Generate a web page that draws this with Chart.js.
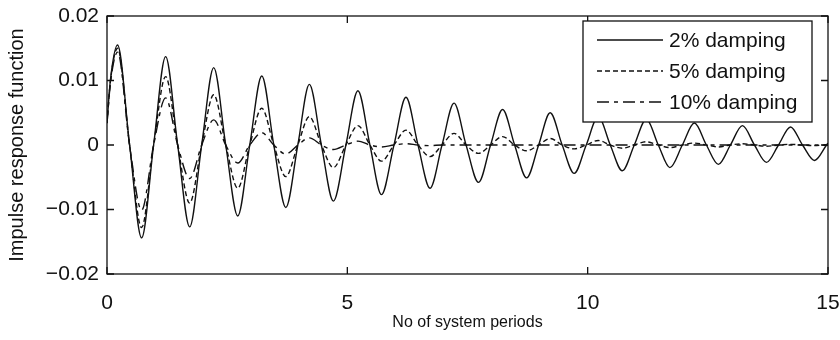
<!DOCTYPE html>
<html>
<head>
<meta charset="utf-8">
<script src="https://cdn.jsdelivr.net/npm/chart.js@4.4.1/dist/chart.umd.min.js"></script>
<style>
  html, body { margin: 0; padding: 0; background: #fff; }
  #wrap { width: 840px; height: 340px; }
</style>
</head>
<body>
<div id="wrap"><canvas id="irf" width="840" height="340"></canvas></div>
<script>
// time in system periods: start, peaks, zero crossings and troughs
const periods = [0, 0.07,
  0.22, 0.47, 0.72, 0.97,   1.22, 1.47, 1.72, 1.97,   2.22, 2.47, 2.72, 2.97,
  3.22, 3.47, 3.72, 3.97,   4.21, 4.46, 4.71, 4.97,   5.22, 5.47, 5.71, 5.97,
  6.22, 6.47, 6.72, 6.97,   7.22, 7.47, 7.73, 7.98,   8.23, 8.48, 8.73, 8.98,
  9.22, 9.47, 9.72, 9.97,   10.22, 10.47, 10.72, 10.97, 11.22, 11.47, 11.71, 11.97,
  12.22, 12.47, 12.72, 12.97, 13.22, 13.47, 13.72, 13.97, 14.22, 14.47, 14.72, 14.97,
  15];

const damping2 = [0.0034, 0.0100,
  0.0155, 0, -0.0144, 0,   0.0137, 0, -0.0127, 0,   0.0120, 0, -0.0110, 0,
  0.0107, 0, -0.0097, 0,   0.0094, 0, -0.0087, 0,   0.0084, 0, -0.0077, 0,
  0.0074, 0, -0.0067, 0,   0.0065, 0, -0.0058, 0,   0.0055, 0, -0.0051, 0,
  0.0050, 0, -0.0044, 0,   0.0044, 0, -0.0040, 0,   0.0040, 0, -0.0035, 0,
  0.0034, 0, -0.0030, 0,   0.0030, 0, -0.0027, 0,   0.0028, 0, -0.0024, 0,
  0.0003];

const damping5 = [0.0034, 0.0098,
  0.0150, 0, -0.0128, 0,   0.0106, 0, -0.0090, 0,   0.0078, 0, -0.0067, 0,
  0.0057, 0, -0.0049, 0,   0.0044, 0, -0.0035, 0,   0.0030, 0, -0.0025, 0,
  0.0023, 0, -0.0018, 0,   0.0018, 0, -0.0013, 0,   0.0013, 0, -0.0009, 0,
  0.0010, 0, -0.0006, 0,   0.0007, 0, -0.0005, 0,   0.0005, 0, -0.0004, 0,
  0.0003, 0, -0.0003, 0,   0.0002, 0, -0.0002, 0,   0.0001, 0, -0.0001, 0,
  0];

const damping10 = [0.0034, 0.0095,
  0.0144, 0, -0.0101, 0,   0.0073, 0, -0.0052, 0,   0.0039, 0, -0.0028, 0,
  0.0019, 0, -0.0014, 0,   0.0011, 0, -0.0007, 0,   0.0006, 0, -0.0003, 0,
  0.0002, 0, -0.0001, 0,   0, 0, 0, 0,   0, 0, 0, 0,
  0, 0, 0, 0,   0, 0, 0, 0,   0, 0, 0, 0,
  0, 0, 0, 0,   0, 0, 0, 0,   0, 0, 0, 0,
  0];

const seriesLabels = ['2% damping', '5% damping', '10% damping'];
const xTickValues = [0, 5, 10, 15];
const yTickValues = [-0.02, -0.01, 0, 0.01, 0.02];
const yTickLabels = ['\u22120.02', '\u22120.01', '0', '0.01', '0.02'];

const ink = '#111';
const fontFamily = '"Liberation Sans", Arial, Helvetica, sans-serif';
const toPoints = ys => periods.map((t, i) => ({ x: t, y: ys[i] }));

// box round the plot area with inward ticks (matlab style)
const frameTicks = {
  id: 'frameTicks',
  afterDatasetsDraw(chart) {
    const { ctx, chartArea: a, scales } = chart;
    const len = 7;
    ctx.save();
    ctx.strokeStyle = ink;
    ctx.lineWidth = 1.3;
    ctx.setLineDash([]);
    ctx.strokeRect(a.left, a.top, a.right - a.left, a.bottom - a.top);
    ctx.beginPath();
    xTickValues.forEach(v => {
      const px = scales.x.getPixelForValue(v);
      ctx.moveTo(px, a.bottom); ctx.lineTo(px, a.bottom - len);
      ctx.moveTo(px, a.top); ctx.lineTo(px, a.top + len);
    });
    yTickValues.forEach(v => {
      const py = scales.y.getPixelForValue(v);
      ctx.moveTo(a.left, py); ctx.lineTo(a.left + len, py);
      ctx.moveTo(a.right, py); ctx.lineTo(a.right - len, py);
    });
    ctx.stroke();
    ctx.restore();
  }
};

// legend box inside the plot, top right, opaque like the original
const boxLegend = {
  id: 'boxLegend',
  afterDraw(chart) {
    const { ctx, chartArea: a } = chart;
    const w = 229, h = 101;
    const x0 = a.right - 16 - w, y0 = a.top + 5;
    ctx.save();
    ctx.fillStyle = '#fff';
    ctx.fillRect(x0, y0, w, h);
    ctx.strokeStyle = ink;
    ctx.lineWidth = 1.3;
    ctx.strokeRect(x0, y0, w, h);
    ctx.font = '21px ' + fontFamily;
    ctx.textBaseline = 'middle';
    ctx.fillStyle = ink;
    chart.data.datasets.forEach((ds, i) => {
      const yy = y0 + 19 + i * 31;
      ctx.beginPath();
      ctx.setLineDash(ds.borderDash || []);
      ctx.lineWidth = ds.borderWidth;
      ctx.moveTo(x0 + 14, yy);
      ctx.lineTo(x0 + 80, yy);
      ctx.stroke();
      ctx.setLineDash([]);
      ctx.fillText(ds.label, x0 + 86, yy + 1);
    });
    ctx.restore();
  }
};

const lineStyle = {
  borderColor: ink,
  borderWidth: 1.4,
  pointRadius: 0,
  fill: false,
  cubicInterpolationMode: 'monotone'
};

new Chart(document.getElementById('irf'), {
  type: 'line',
  data: {
    datasets: [
      { ...lineStyle, label: seriesLabels[0], data: toPoints(damping2) },
      { ...lineStyle, label: seriesLabels[1], data: toPoints(damping5), borderDash: [5, 3] },
      { ...lineStyle, label: seriesLabels[2], data: toPoints(damping10), borderDash: [12, 5, 4, 5] }
    ]
  },
  options: {
    responsive: false,
    animation: false,
    layout: { padding: { top: 16, right: 12, left: 0, bottom: 0 } },
    plugins: {
      legend: { display: false },
      tooltip: { enabled: false }
    },
    scales: {
      x: {
        type: 'linear',
        min: 0,
        max: 15,
        grid: { display: false, drawTicks: false },
        border: { display: false },
        afterBuildTicks: s => { s.ticks = xTickValues.map(v => ({ value: v })); },
        afterFit: s => { s.height = 66; s.paddingLeft = 0; s.paddingRight = 0; },
        ticks: {
          color: ink,
          padding: 17,
          maxRotation: 0,
          font: { family: fontFamily, size: 21 },
          callback: v => String(v)
        },
        title: {
          display: true,
          text: 'No of system periods',
          color: ink,
          font: { family: fontFamily, size: 16 },
          padding: { top: 0, bottom: 8 }
        }
      },
      y: {
        min: -0.02,
        max: 0.02,
        grid: { display: false, drawTicks: false },
        border: { display: false },
        afterBuildTicks: s => { s.ticks = yTickValues.map(v => ({ value: v })); },
        afterFit: s => { s.width = 107; s.paddingTop = 0; s.paddingBottom = 0; },
        ticks: {
          color: ink,
          padding: 8,
          font: { family: fontFamily, size: 21 },
          callback: v => yTickLabels[yTickValues.indexOf(v)]
        },
        title: {
          display: true,
          text: 'Impulse response function',
          color: ink,
          font: { family: fontFamily, size: 20 },
          padding: { top: 5, bottom: 0 }
        }
      }
    }
  },
  plugins: [frameTicks, boxLegend]
});
</script>
</body>
</html>
